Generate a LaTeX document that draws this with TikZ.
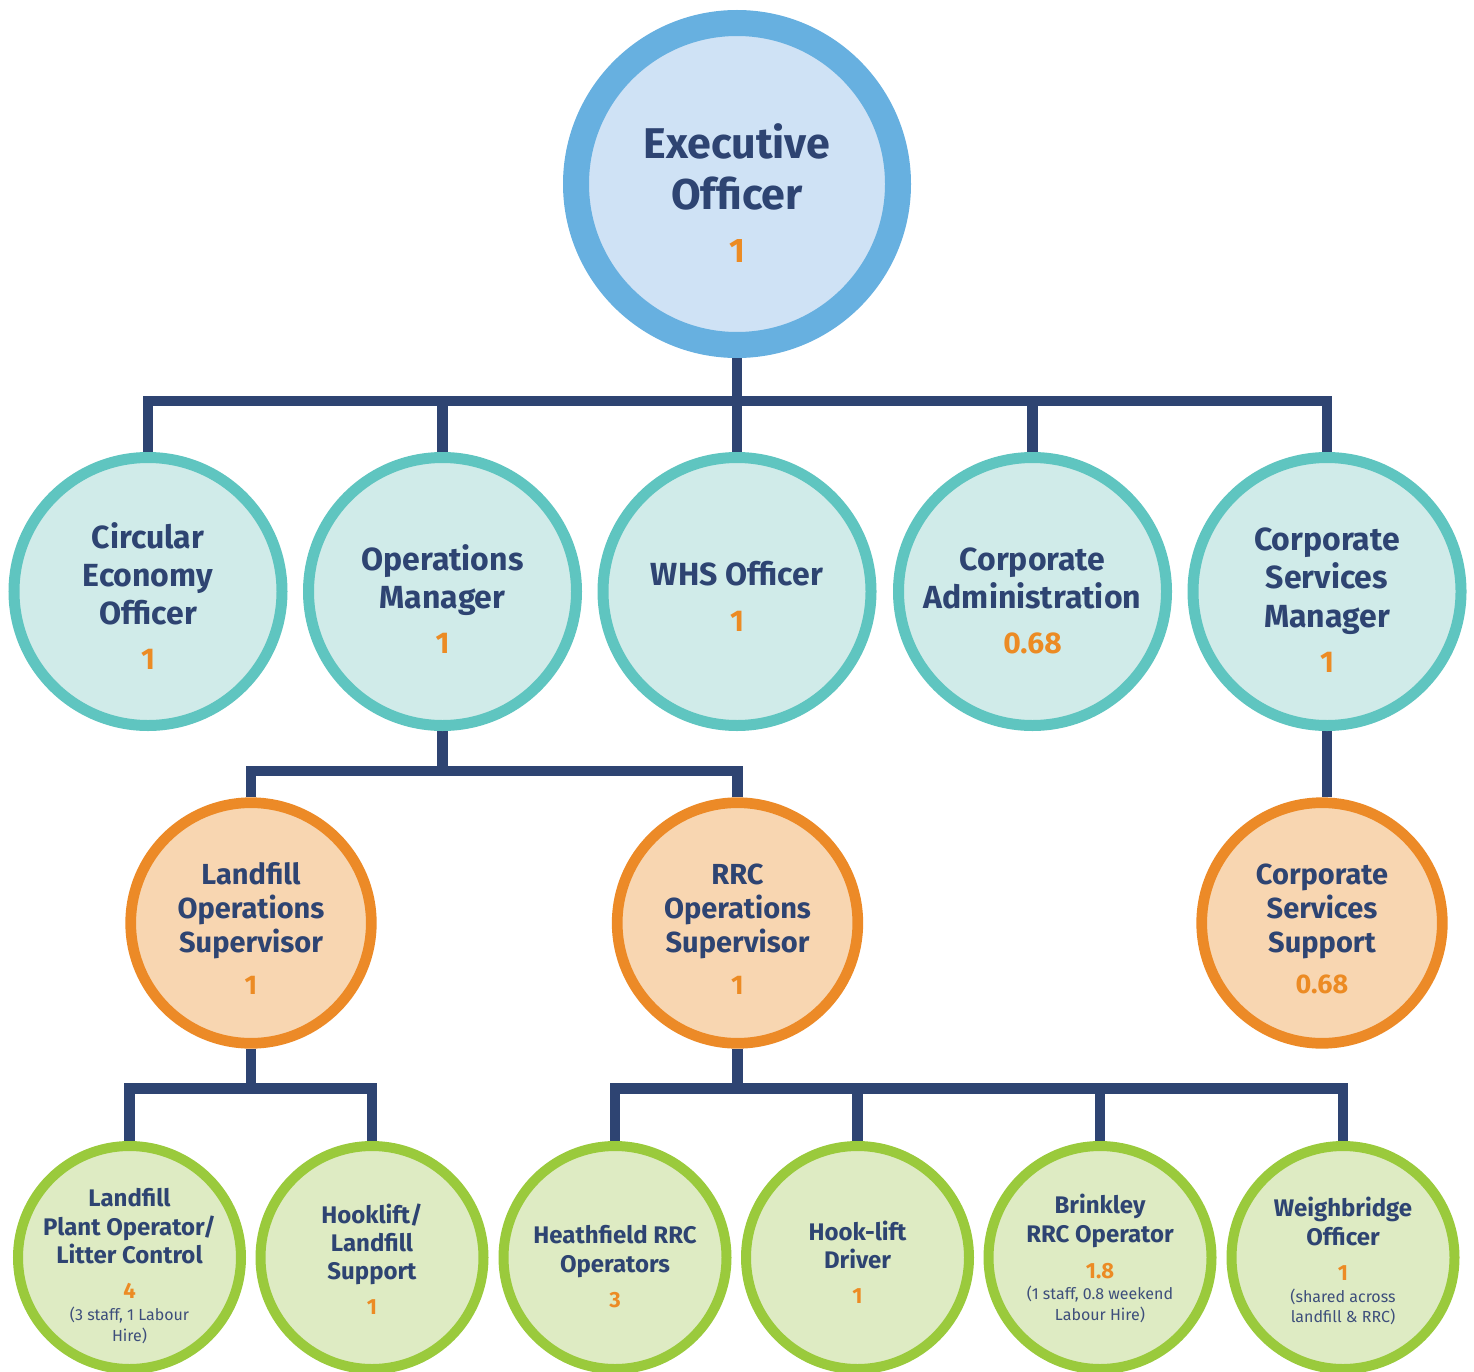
\documentclass[tikz,border=0pt]{standalone}
\usepackage{fontspec}
\setmainfont{Fira Sans}
\usetikzlibrary{backgrounds}
\definecolor{navy}{HTML}{2E4472}
\definecolor{numor}{HTML}{EC8B24}
\definecolor{subnavy}{HTML}{3D4E7B}
\definecolor{eoring}{HTML}{67B0E0}
\definecolor{eofill}{HTML}{CFE2F5}
\definecolor{tlring}{HTML}{5FC5C0}
\definecolor{tlfill}{HTML}{D0EBE9}
\definecolor{orring}{HTML}{EC8A27}
\definecolor{orfill}{HTML}{F8D6B1}
\definecolor{grring}{HTML}{9ACA3C}
\definecolor{grfill}{HTML}{DEEBC3}
\begin{document}
\begin{tikzpicture}[x=1pt,y=-1pt,
  conn/.style={draw=navy,line width=10.5pt,line join=miter},
  eocirc/.style={circle,inner sep=0,minimum size=322pt,line width=26pt,draw=eoring,fill=eofill},
  lvtwo/.style={circle,inner sep=0,minimum size=268pt,line width=11pt,draw=tlring,fill=tlfill},
  lvthree/.style={circle,inner sep=0,minimum size=240.6pt,line width=10.7pt,draw=orring,fill=orfill},
  lvfour/.style={circle,inner sep=0,minimum size=223pt,line width=10pt,draw=grring,fill=grfill},
  txt/.style={anchor=base,inner sep=0,text=navy},
  tone/.style={txt,font=\bfseries\fontsize{43}{43}\selectfont},
  none/.style={txt,text=numor,font=\bfseries\fontsize{34}{34}\selectfont},
  ttwo/.style={txt,font=\bfseries\fontsize{32}{32}\selectfont},
  ntwo/.style={txt,text=numor,font=\bfseries\fontsize{30}{30}\selectfont},
  tthree/.style={txt,font=\bfseries\fontsize{29}{29}\selectfont},
  nthree/.style={txt,text=numor,font=\bfseries\fontsize{27}{27}\selectfont},
  tfour/.style={txt,font=\bfseries\fontsize{24}{24}\selectfont},
  nfour/.style={txt,text=numor,font=\bfseries\fontsize{22}{22}\selectfont},
  sfour/.style={txt,text=subnavy,font=\fontsize{16}{16}\selectfont}
]
\useasboundingbox (0,0) rectangle (1474,1372);

% ---------- circles ----------
\node[eocirc] (eo) at (737,184) {};

\node[lvtwo] (ce)  at (148,591.5) {};
\node[lvtwo] (ops) at (442.5,591.5) {};
\node[lvtwo] (whs) at (737,591.5) {};
\node[lvtwo] (ca)  at (1032.5,591.5) {};
\node[lvtwo] (csm) at (1327,591.5) {};

\node[lvthree] (lfs) at (251,923) {};
\node[lvthree] (rrc) at (737.5,923) {};
\node[lvthree] (css) at (1322,923) {};

\node[lvfour] (lpo) at (129.5,1257.5) {};
\node[lvfour] (hls) at (372,1257.5) {};
\node[lvfour] (hro) at (615,1257.5) {};
\node[lvfour] (hld) at (857.5,1257.5) {};
\node[lvfour] (bro) at (1100,1257.5) {};
\node[lvfour] (wbo) at (1343,1257.5) {};

% ---------- connectors ----------
\begin{scope}[on background layer]
\coordinate (busa) at (737,401);
\draw[conn] (eo.south) -- (busa);
\foreach \n in {ce,ops,whs,ca,csm} \draw[conn] (\n.north) |- (busa);

\coordinate (busb) at (442.5,771);
\draw[conn] (ops.south) -- (busb);
\foreach \n in {lfs,rrc} \draw[conn] (\n.north) |- (busb);

\draw[conn] (csm.south) -- (csm.south |- css.north);

\coordinate (busc) at (251,1088.5);
\draw[conn] (lfs.south) -- (busc);
\foreach \n in {lpo,hls} \draw[conn] (\n.north) |- (busc);

\coordinate (busd) at (737.5,1088.5);
\draw[conn] (rrc.south) -- (busd);
\foreach \n in {hro,hld,bro,wbo} \draw[conn] (\n.north) |- (busd);
\end{scope}

% ---------- texts ----------
\node[tone] (eoa) at (737,159) {Executive};
\node[tone] (eob) at (737,210) {Officer};
\node[none] (eon) at (737,262) {1};

\node[ttwo] (cea) at (148,548) {Circular};
\node[ttwo] (ceb) at (148,586) {Economy};
\node[ttwo] (cec) at (148,624) {Officer};
\node[ntwo] (cen) at (148,669) {1};

\node[ttwo] (opsa) at (442.5,570) {Operations};
\node[ttwo] (opsb) at (442.5,608) {Manager};
\node[ntwo] (opsn) at (442.5,653) {1};

\node[ttwo] (whsa) at (737,585) {WHS Officer};
\node[ntwo] (whsn) at (737,631) {1};

\node[ttwo] (caa) at (1032.5,570) {Corporate};
\node[ttwo] (cab) at (1032.5,608) {Administration};
\node[ntwo] (can) at (1032.5,653) {0.68};

\node[ttwo] (csma) at (1327,550) {Corporate};
\node[ttwo] (csmb) at (1327,588) {Services};
\node[ttwo] (csmc) at (1327,627) {Manager};
\node[ntwo] (csmn) at (1327,672) {1};

\node[tthree] (lfsa) at (251,884) {Landfill};
\node[tthree] (lfsb) at (251,918) {Operations};
\node[tthree] (lfsc) at (251,952) {Supervisor};
\node[nthree] (lfsn) at (251,994) {1};

\node[tthree] (rrca) at (737.5,884) {RRC};
\node[tthree] (rrcb) at (737.5,918) {Operations};
\node[tthree] (rrcc) at (737.5,952) {Supervisor};
\node[nthree] (rrcn) at (737.5,994) {1};

\node[tthree] (cssa) at (1322,884) {Corporate};
\node[tthree] (cssb) at (1322,918) {Services};
\node[tthree] (cssc) at (1322,952) {Support};
\node[nthree] (cssn) at (1322,993) {0.68};

\node[tfour] (lpoa) at (129.5,1206) {Landfill};
\node[tfour] (lpob) at (129.5,1235) {Plant Operator/};
\node[tfour] (lpoc) at (129.5,1263) {Litter Control};
\node[nfour] (lpon) at (129.5,1298) {4};
\node[sfour] (lpod) at (129.5,1320) {(3 staff, 1 Labour};
\node[sfour] (lpoe) at (129.5,1341) {Hire)};

\node[tfour] (hlsa) at (372,1223) {Hooklift/};
\node[tfour] (hlsb) at (372,1251) {Landfill};
\node[tfour] (hlsc) at (372,1279) {Support};
\node[nfour] (hlsn) at (372,1314) {1};

\node[tfour] (hroa) at (615,1243) {Heathfield RRC};
\node[tfour] (hrob) at (615,1272) {Operators};
\node[nfour] (hron) at (615,1307) {3};

\node[tfour] (hlda) at (857.5,1240) {Hook-lift};
\node[tfour] (hldb) at (857.5,1268) {Driver};
\node[nfour] (hldn) at (857.5,1303) {1};

\node[tfour] (broa) at (1100,1213) {Brinkley};
\node[tfour] (brob) at (1100,1242) {RRC Operator};
\node[nfour] (bron) at (1100,1278) {1.8};
\node[sfour] (broc) at (1100,1299) {(1 staff, 0.8 weekend};
\node[sfour] (brod) at (1100,1320) {Labour Hire)};

\node[tfour] (wboa) at (1343,1216) {Weighbridge};
\node[tfour] (wbob) at (1343,1245) {Officer};
\node[nfour] (wbon) at (1343,1280) {1};
\node[sfour] (wboc) at (1343,1302) {(shared across};
\node[sfour] (wbod) at (1343,1322) {landfill \& RRC)};
\end{tikzpicture}
\end{document}
